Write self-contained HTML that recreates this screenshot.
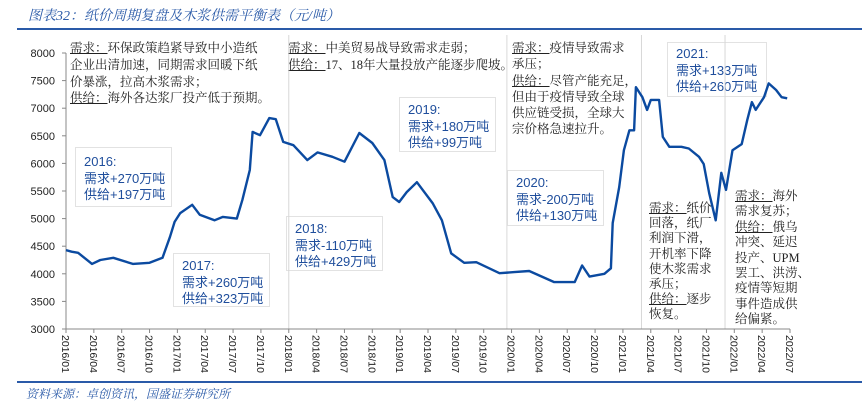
<!DOCTYPE html>
<html><head><meta charset="utf-8">
<style>
body{margin:0;width:862px;height:412px;background:#fff;position:relative;overflow:hidden;font-family:"Liberation Sans","Noto Sans CJK SC",sans-serif;}
.title{position:absolute;left:28px;top:5px;font-family:"Liberation Serif","Noto Serif CJK SC",serif;font-style:italic;color:#2a5aa8;font-size:14px;}
.rule{position:absolute;left:17px;right:0;height:2px;background:#2a5aa8;}
.src{position:absolute;left:26px;top:385px;font-family:"Liberation Serif","Noto Serif CJK SC",serif;font-style:italic;color:#2a5aa8;font-size:12px;}
.note{position:absolute;font-family:"Liberation Serif","Noto Serif CJK SC",serif;font-size:12.5px;color:#222;white-space:nowrap;}
.note u{text-decoration:underline;}
.box{position:absolute;background:#fff;border:1px solid #e2e2e2;color:#1f4e9c;font-size:13px;line-height:16.5px;padding:6px 8px;box-sizing:border-box;white-space:nowrap;}
svg{position:absolute;left:0;top:0;}
</style></head><body>
<div class="title">图表32：纸价周期复盘及木浆供需平衡表（元/吨）</div>
<div class="rule" style="top:28px"></div>
<div class="note" style="left:70px;top:40px;line-height:16.8px"><u>需求：</u>环保政策趋紧导致中小造纸<br>企业出清加速，同期需求回暖下纸<br>价暴涨，拉高木浆需求；<br><u>供给：</u>海外各达浆厂投产低于预期。</div>
<div class="note" style="left:288px;top:40px;line-height:16.8px"><u>需求：</u>中美贸易战导致需求走弱；<br><u>供给：</u>17、18年大量投放产能逐步爬坡。</div>
<div class="note" style="left:512px;top:40px;line-height:16.3px"><u>需求：</u>疫情导致需求<br>承压；<br><u>供给：</u>尽管产能充足，<br>但由于疫情导致全球<br>供应链受损，全球大<br>宗价格急速拉升。</div>
<div class="note" style="left:649px;top:201px;line-height:15.2px"><u>需求：</u>纸价<br>回落，纸厂<br>利润下滑，<br>开机率下降<br>使木浆需求<br>承压；<br><u>供给：</u>逐步<br>恢复。</div>
<div class="note" style="left:735px;top:189px;line-height:15.4px"><u>需求：</u>海外<br>需求复苏；<br><u>供给：</u>俄乌<br>冲突、延迟<br>投产、UPM<br>罢工、洪涝、<br>疫情等短期<br>事件造成供<br>给偏紧。</div>
<div class="box" style="left:75px;top:147px;width:97px;height:60px">2016:<br>需求+270万吨<br>供给+197万吨</div>
<div class="box" style="left:173px;top:253px;width:97px;height:54px;padding-top:4px">2017:<br>需求+260万吨<br>供给+323万吨</div>
<div class="box" style="left:286px;top:216px;width:97px;height:55px;padding-top:4px">2018:<br>需求-110万吨<br>供给+429万吨</div>
<div class="box" style="left:399px;top:97px;width:97px;height:55px;padding-top:4px">2019:<br>需求+180万吨<br>供给+99万吨</div>
<div class="box" style="left:507px;top:170px;width:97px;height:56px;padding-top:4px">2020:<br>需求-200万吨<br>供给+130万吨</div>
<div class="box" style="left:667px;top:42px;width:100px;height:55px;padding-top:3px">2021:<br>需求+133万吨<br>供给+260万吨</div>
<svg id="chart" width="862" height="412"></svg>
<div class="rule" style="top:381px;height:2px"></div>
<div class="src">资料来源：卓创资讯，国盛证券研究所</div>
<script>
const monthIdx=[0,0.6,1.3,2.8,3.7,5.1,7.2,9.0,10.4,11.2,11.7,12.3,13.6,14.4,16.0,16.9,18.4,19.0,19.8,20.1,20.9,21.9,22.6,23.4,24.5,26.0,27.1,28.7,30.0,31.6,33.0,34.3,35.2,35.9,36.7,37.8,39.5,40.5,41.5,42.9,44.2,46.7,48.3,49.9,52.6,54.8,55.6,56.4,58.0,58.7,58.9,59.6,60.1,60.7,61.2,61.4,62.1,62.6,63.0,63.9,64.3,65.0,66.3,67.1,68.2,68.7,69.3,70.0,70.6,71.1,71.8,72.8,73.4,73.9,74.3,75.2,75.7,76.5,77.1,77.7];
const prices=[4430,4400,4380,4180,4250,4290,4180,4200,4290,4670,4940,5100,5250,5070,4970,5030,5000,5340,5880,6570,6510,6820,6800,6390,6330,6060,6200,6120,6030,6550,6370,6060,5390,5300,5480,5660,5280,4970,4370,4200,4210,4010,4030,4050,3850,3850,4150,3950,4000,4100,4920,5570,6240,6600,6600,7380,7200,6970,7150,7150,6480,6300,6300,6270,6120,5990,5460,4970,5830,5520,6240,6350,6790,7110,6970,7200,7450,7330,7200,7180];
const yTicks=[3000,3500,4000,4500,5000,5500,6000,6500,7000,7500,8000];
const xLabels=["2016/01","2016/04","2016/07","2016/10","2017/01","2017/04","2017/07","2017/10","2018/01","2018/04","2018/07","2018/10","2019/01","2019/04","2019/07","2019/10","2020/01","2020/04","2020/07","2020/10","2021/01","2021/04","2021/07","2021/10","2022/01","2022/04","2022/07"];
const separators=[24,47.5,62,71];
const NS="http://www.w3.org/2000/svg";
const svg=document.getElementById('chart');
const X0=66,X1=790,Y0=329,Y1=53;
function xs(m){return X0+(X1-X0)*m/78;}
function ys(v){return Y0-(v-3000)/5000*(Y0-Y1);}
function mk(t,a){const e=document.createElementNS(NS,t);for(const k in a)e.setAttribute(k,a[k]);svg.appendChild(e);return e;}
separators.forEach(m=>{
  const l=mk('line',{x1:xs(m),x2:xs(m),y1:35,y2:Y0,stroke:'#d8d8d8','stroke-width':1});
  
  
});
const ya=mk('line',{x1:X0,x2:X0,y1:Y1,y2:Y0,stroke:'#888','stroke-width':1});


const xa=mk('line',{x1:X0,x2:X1,y1:Y0,y2:Y0,stroke:'#888','stroke-width':1});


yTicks.forEach(v=>{
  mk('line',{x1:X0-4,x2:X0,y1:ys(v),y2:ys(v),stroke:'#888'});
  const t=mk('text',{x:X0-11,y:ys(v)+4,'text-anchor':'end','font-size':11,fill:'#222','font-family':'Liberation Sans'});
  t.textContent=v;
  
  
});
xLabels.forEach((s,i)=>{
  const x=xs(i*3);
  mk('line',{x1:x,x2:x,y1:Y0,y2:Y0+4,stroke:'#888'});
  const t=mk('text',{x:0,y:0,'font-size':10.5,fill:'#222','font-family':'Liberation Sans',transform:`translate(${x-4},335) rotate(90)`});
  t.textContent=s;
  
  
});
const d=monthIdx.map((m,i)=>(i?'L':'M')+xs(m).toFixed(1)+','+ys(prices[i]).toFixed(1)).join('');
const p=mk('path',{d:d,fill:'none',stroke:'#0b4aa0','stroke-width':2.4,'stroke-linejoin':'round'});


</script>
</body></html>
